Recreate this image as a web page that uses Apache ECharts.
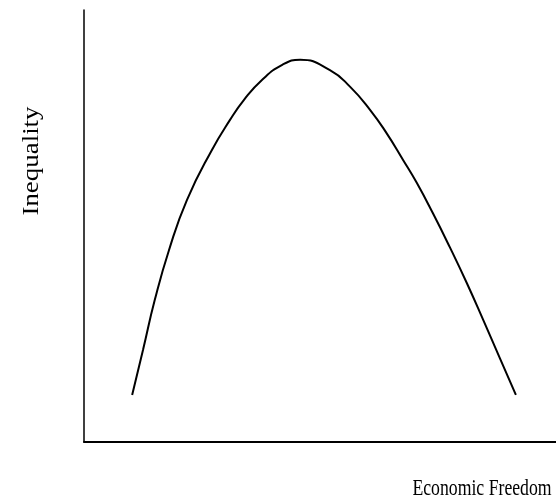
<!DOCTYPE html>
<html>
<head>
<meta charset="utf-8">
<script src="https://cdn.jsdelivr.net/npm/echarts@6/dist/echarts.min.js"></script>
<style>
  html, body { margin: 0; padding: 0; background: #fff; }
  #chart { width: 556px; height: 503px; }
</style>
</head>
<body>
<div id="chart"></div>
<script>
// freedom (x) vs inequality (y), 0-100 scale
const freedom = [10.2, 12.5, 15.0, 18.0, 21.8, 27.1, 30.9, 33.9, 37.7, 42.0, 45.8,
  52.1, 56.4, 60.6, 64.1, 67.6, 70.5, 73.9, 77.5, 81.1, 84.6, 88.1, 91.5];
const inequality = [10.9, 21.3, 32.9, 44.4, 56.0, 67.6, 74.5, 79.2, 83.8, 87.3, 88.5,
  86.1, 82.2, 76.9, 71.5, 65.3, 60.0, 53.0, 45.1, 36.8, 28.2, 19.4, 10.9];
const xName = "Economic Freedom";
const yName = "Inequality";

let myChart = echarts.init(document.getElementById("chart"));
let option = {
  animation: false,
  grid: { left: 84, right: 0, top: 10, bottom: 61 },
  xAxis: {
    type: "value",
    min: 0,
    max: 100,
    axisLine: { show: true, onZero: false, lineStyle: { color: "#000", width: 2 } },
    axisTick: { show: false },
    axisLabel: { show: false },
    splitLine: { show: false }
  },
  yAxis: {
    type: "value",
    min: 0,
    max: 100,
    axisLine: { show: true, onZero: false, lineStyle: { color: "#000", width: 1.5 } },
    axisTick: { show: false },
    axisLabel: { show: false },
    splitLine: { show: false }
  },
  graphic: [
    { // x axis title (picture is a bit squashed sideways)
      type: "text",
      x: 482,
      y: 489,
      scaleX: 0.77,
      style: {
        text: xName, font: "23px 'Liberation Serif'", fill: "#000",
        textAlign: "center", textVerticalAlign: "middle"
      }
    },
    { // y axis title, rotated
      type: "text",
      x: 32,
      y: 161,
      rotation: Math.PI / 2,
      scaleX: 1.17,
      style: {
        text: yName, font: "23px 'Liberation Serif'", fill: "#000",
        textAlign: "center", textVerticalAlign: "middle"
      }
    }
  ],
  series: [{
    type: "line",
    data: freedom.map((f, i) => [f, inequality[i]]),
    smooth: true,
    symbol: "none",
    lineStyle: { color: "#000", width: 2 }
  }]
};
myChart.setOption(option);
</script>
</body>
</html>
